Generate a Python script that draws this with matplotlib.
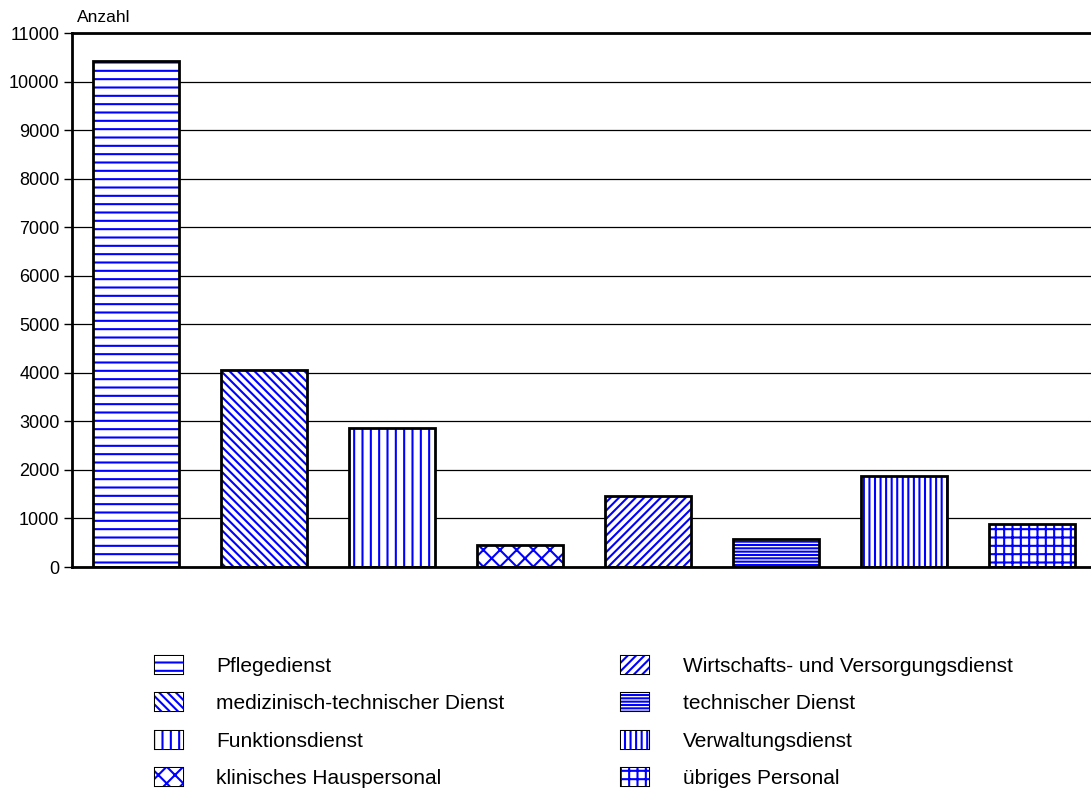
import matplotlib
matplotlib.use("Agg")
import matplotlib.pyplot as plt
from matplotlib.patches import Patch
import numpy as np

plt.rcParams['font.family'] = ['Liberation Sans', 'DejaVu Sans']
plt.rcParams['hatch.linewidth'] = 1.5

# Daten
kategorien = ["Pflegedienst", "medizinisch-technischer Dienst", "Funktionsdienst",
              "klinisches Hauspersonal", "Wirtschafts- und Versorgungsdienst",
              "technischer Dienst", "Verwaltungsdienst", "übriges Personal"]
anzahl = [10430, 4060, 2870, 460, 1470, 580, 1880, 890]
muster = ['--', '\\\\\\\\', '||', 'xx', '////', '-----', '|||', '++']
yticks = list(range(0, 11001, 1000))

blau = '#0000ff'

fig = plt.figure(figsize=(10.91, 8.09), dpi=100)
ax = fig.add_axes([72 / 1091, 1 - 567 / 809, 1024 / 1091, 534 / 809])

x = np.arange(len(anzahl))
for i in range(len(anzahl)):
    ax.bar(x[i], anzahl[i], width=0.67, color='white', edgecolor=blau,
           hatch=muster[i], linewidth=0, zorder=2)
    ax.bar(x[i], anzahl[i], width=0.67, fill=False, edgecolor='black',
           linewidth=2, zorder=3)

ax.set_xlim(-0.5, len(anzahl) - 0.5)
ax.set_ylim(0, 11000)
ax.set_yticks(yticks)
ax.set_yticklabels([str(t) for t in yticks], fontsize=13)
ax.set_xticks([])
ax.tick_params(axis='y', direction='out', length=6, width=1, pad=3)
ax.yaxis.grid(True, color='black', linewidth=0.9, zorder=0)
ax.set_axisbelow(True)
for s in ['left', 'bottom', 'top']:
    ax.spines[s].set_linewidth(2)
ax.spines['right'].set_visible(False)

fig.text(77 / 1091, 1 - 17 / 809, "Anzahl", fontsize=12.5, va='center', ha='left')

# Legende
handles = []
for i in range(len(kategorien)):
    handles.append(Patch(facecolor='white', edgecolor=blau, hatch=muster[i], linewidth=0))
leg = fig.legend(handles, kategorien, loc='upper left',
                 bbox_to_anchor=(136 / 1091, 1 - 637 / 809), ncol=2,
                 frameon=False, fontsize=15, handlelength=1.35, handleheight=0.95,
                 labelspacing=0.83, handletextpad=1.6, columnspacing=5.6)

fig.canvas.draw()
# schwarze Rahmen um die Legendenfelder
inv = fig.transFigure.inverted()
for p in leg.get_patches():
    bb = p.get_window_extent()
    (x0, y0), (x1, y1) = inv.transform([[bb.x0, bb.y0], [bb.x1, bb.y1]])
    fig.add_artist(plt.Rectangle((x0, y0), x1 - x0, y1 - y0, fill=False,
                                 edgecolor='black', linewidth=1.5,
                                 transform=fig.transFigure))

fig.savefig("out.png", dpi=100)
